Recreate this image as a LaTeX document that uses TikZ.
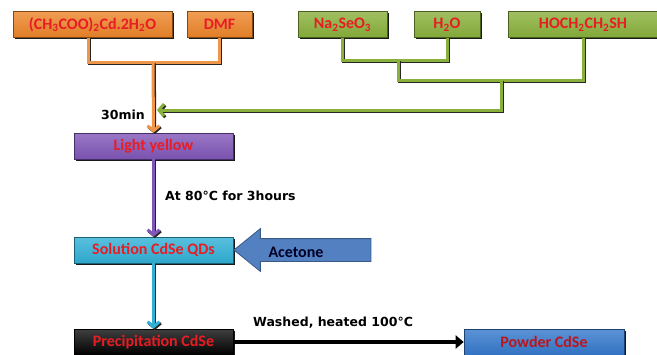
\documentclass[tikz,border=0pt]{standalone}
\usepackage{fontspec}
\setmainfont{Carlito}
\newfontfamily\heavyfont{DejaVu Sans}
\usetikzlibrary{arrows.meta, positioning, calc, shadows, shapes.arrows}
\definecolor{boxred}{RGB}{232,28,36}
\definecolor{cdorange}{RGB}{236,132,40}
\definecolor{segreen}{RGB}{136,176,58}
\definecolor{lypurple}{RGB}{128,86,184}
\definecolor{qdcyan}{RGB}{48,176,214}
\definecolor{pwblue}{RGB}{52,120,204}
\definecolor{acblue}{RGB}{82,128,192}

\begin{document}
\begin{tikzpicture}[x=1pt, y=-1pt,
  box/.style={rectangle, draw=#1!55!black, line width=0.6pt, top color=#1!80!white, bottom color=#1!95!black,
    minimum height=26pt, inner sep=0pt, text=boxred,
    font=\fontsize{16}{18}\selectfont\bfseries,
    drop shadow={shadow xshift=1.6pt, shadow yshift=-1.6pt, opacity=0.9, fill=black}},
  pipe/.style={draw=#1, line width=3pt,
    preaction={draw=black!85, line width=3pt, transform canvas={shift={(1.3pt,-1.3pt)}}}},
  tip/.style={-{Straight Barb[length=5pt,width=12pt]}},
  lbl/.style={font=\heavyfont\fontsize{12.5}{14}\selectfont\bfseries, text=black, inner sep=1pt},
]
  \useasboundingbox (0,0) rectangle (657,354);

  \node[box=cdorange, minimum width=159pt] (cd) at (92.5,24.5) {(CH\textsubscript{3}COO)\textsubscript{2}Cd.2H\textsubscript{2}O};
  \node[box=cdorange, minimum width=65pt] (dmf) at (219.5,24.5) {DMF};
  \node[box=segreen, minimum width=89pt] (na) at (342.5,24.5) {Na\textsubscript{2}SeO\textsubscript{3}};
  \node[box=segreen, minimum width=66pt] (wat) at (447,24.5) {H\textsubscript{2}O};
  \node[box=segreen, minimum width=150pt] (thiol) at (583,24.5) {HOCH\textsubscript{2}CH\textsubscript{2}SH};

  \node[box=lypurple, minimum width=159pt] (ly) at (153.5,146) {Light yellow};
  \node[box=qdcyan, minimum width=159pt] (qd) at (153.5,250) {Solution CdSe QDs};
  \node[box=black, top color=black!75, bottom color=black, minimum width=159pt] (pc) at (153.5,342) {Precipitation CdSe};
  \node[box=pwblue, text=boxred!80!black, minimum width=160pt] (pw) at (544,342) {Powder CdSe};

  \node[single arrow, shape border rotate=180, anchor=tip, fill=acblue, draw=acblue!70!black, line width=0.8pt,
    inner xsep=0pt, inner ysep=11pt, single arrow head extend=10pt, single arrow tip angle=78,
    minimum height=137pt] (ac) at (qd.east) {};
  \node[font=\fontsize{16}{18}\selectfont\bfseries, text=black!85!blue] (actxt) at (296,252) {Acetone};

  \coordinate (jo) at (153,62);
  \coordinate (jg1) at (398,60);
  \coordinate (jg2) at (501,80);
  \coordinate (jg3) at (501,110);
  \coordinate (ent) at (157,110);

  \draw[pipe=cdorange!85!white] (cd.south -| 88,0) |- (jo) -| (dmf.south);
  \draw[pipe=cdorange!85!white, tip] (jo) -- (ly.north);
  \draw[pipe=segreen] (na.south) |- (jg1) -| (wat.south);
  \draw[pipe=segreen] (jg1) |- (jg2) -| (thiol.south);
  \draw[pipe=segreen, tip] (jg2) -- (jg3) -- (ent);
  \draw[pipe=lypurple, tip] (ly.south) -- (qd.north);
  \draw[pipe=qdcyan, tip] (qd.south) -- (pc.north);
  \draw[draw=black, line width=3.5pt, -{Triangle[length=8pt,width=13pt]}] (pc.east) -- (pw.west);

  \node[lbl, anchor=east] (tmin) at (146,115) {30min};
  \node[lbl, anchor=west] (theat) at (164,196) {At 80°C for 3hours};
  \node[lbl, anchor=west] (twash) at (252,323) {Washed, heated 100°C};
\end{tikzpicture}
\end{document}
